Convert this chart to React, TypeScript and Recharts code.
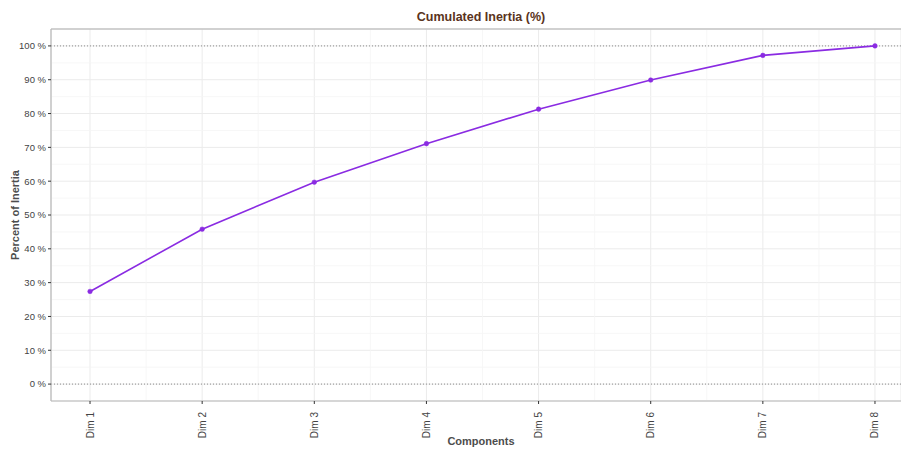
import { LineChart, Line, XAxis, YAxis, CartesianGrid, ReferenceLine } from "recharts";

const categories = ["Dim 1", "Dim 2", "Dim 3", "Dim 4", "Dim 5", "Dim 6", "Dim 7", "Dim 8"];
const cumulated = [27.4, 45.8, 59.7, 71.1, 81.3, 89.9, 97.2, 100];
const yTicks = [0, 10, 20, 30, 40, 50, 60, 70, 80, 90, 100];
const yMinor = [5, 15, 25, 35, 45, 55, 65, 75, 85, 95];
const xMinor = [1.5, 2.5, 3.5, 4.5, 5.5, 6.5, 7.5];

const data = categories.map((c, i) => ({ x: i + 1, label: c, value: cumulated[i] }));

const font = "'Liberation Sans', Arial, sans-serif";

const XTick = ({ x, y, payload }: any) => (
  <g transform={`translate(${x},${y + 6})`}>
    <text transform="rotate(-90)" textAnchor="end" dy={3.5} fontSize={10} fill="#444" fontFamily={font}>
      {categories[payload.value - 1]}
    </text>
  </g>
);

export default function App() {
  return (
    <div style={{ position: "absolute", left: 0, top: 0, width: 901, height: 450, background: "#fff" }}>
      <LineChart
        width={901}
        height={450}
        data={data}
        margin={{ top: 29, right: 0, left: 0, bottom: 0 }}
      >
        <text x={481} y={21} textAnchor="middle" fontSize={12.5} fontWeight="bold" fill="#5a3320" fontFamily={font}>
          Cumulated Inertia (%)
        </text>
        <text x={481} y={445} textAnchor="middle" fontSize={11} fontWeight="bold" fill="#4d4d4d" fontFamily={font}>
          Components
        </text>
        <text
          transform="translate(19,215) rotate(-90)"
          textAnchor="middle"
          fontSize={11}
          fontWeight="bold"
          fill="#4d4d4d"
          fontFamily={font}
        >
          Percent of Inertia
        </text>
        <CartesianGrid stroke="#ebebeb" strokeWidth={1} />
        {yMinor.map((v) => (
          <ReferenceLine key={"ym" + v} y={v} stroke="#f5f5f5" strokeWidth={0.8} />
        ))}
        {xMinor.map((v) => (
          <ReferenceLine key={"xm" + v} x={v} stroke="#f5f5f5" strokeWidth={0.8} />
        ))}
        <XAxis
          dataKey="x"
          type="number"
          domain={[0.652, 8.232]}
          ticks={[1, 2, 3, 4, 5, 6, 7, 8]}
          allowDataOverflow
          height={49}
          tick={<XTick />}
          tickSize={3}
          tickLine={{ stroke: "#333" }}
          axisLine={{ stroke: "#b8b8b8", strokeWidth: 1.2 }}
        />
        <YAxis
          type="number"
          domain={[-5, 105]}
          ticks={yTicks}
          allowDataOverflow
          width={51}
          tickSize={3}
          tickLine={{ stroke: "#333" }}
          axisLine={{ stroke: "#b8b8b8", strokeWidth: 1.2 }}
          tickFormatter={(v: number) => `${v} %`}
          tick={{ fontSize: 9.5, fill: "#444", fontFamily: font }}
        />
        <ReferenceLine y={105} stroke="#c4c4c4" strokeWidth={1.5} />
        <ReferenceLine y={0} stroke="#8c8c8c" strokeDasharray="1 2" />
        <ReferenceLine y={100} stroke="#8c8c8c" strokeDasharray="1 2" />
        <Line
          type="linear"
          dataKey="value"
          stroke="#8a2be2"
          strokeWidth={1.6}
          dot={{ r: 2.3, fill: "#8a2be2", stroke: "#8a2be2", strokeWidth: 0.5 }}
          isAnimationActive={false}
        />
      </LineChart>
    </div>
  );
}
